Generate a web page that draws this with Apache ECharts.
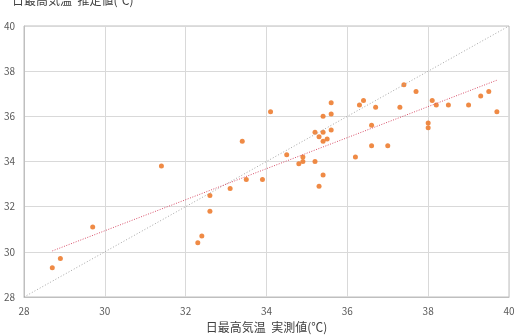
<html>
<head>
    <meta http-equiv="Content-Type" content="text/html; charset=utf-8">
    <title>日最高気温</title>
    <style>body{margin:0;}</style>
</head>
<body>
<div id="main" style="width:516px;height:335px;"></div>
<script type="text/javascript" src="https://cdn.jsdelivr.net/npm/echarts@6/dist/echarts.min.js"></script>
<script type="text/javascript">
// 実測値 / 推定値
var measured = [28.7, 28.9, 29.7, 31.4, 32.3, 32.4, 32.6, 32.6, 33.1, 33.4, 33.5, 33.9, 34.1, 34.5, 34.8, 34.9,
    34.9, 35.2, 35.2, 35.3, 35.3, 35.4, 35.4, 35.4, 35.4, 35.5, 35.6, 35.6, 35.6, 36.2, 36.3, 36.4,
    36.6, 36.6, 36.7, 37.0, 37.3, 37.4, 37.7, 38.0, 38.0, 38.1, 38.2, 38.5, 39.0, 39.3, 39.5, 39.7];
var estimated = [29.3, 29.7, 31.1, 33.8, 30.4, 30.7, 31.8, 32.5, 32.8, 34.9, 33.2, 33.2, 36.2, 34.3, 33.9, 34.0,
    34.2, 34.0, 35.3, 35.1, 32.9, 33.4, 34.9, 35.3, 36.0, 35.0, 35.4, 36.1, 36.6, 34.2, 36.5, 36.7,
    35.6, 34.7, 36.4, 34.7, 36.4, 37.4, 37.1, 35.7, 35.5, 36.7, 36.5, 36.5, 36.5, 36.9, 37.1, 36.2];
// 近似直線 (両端)
var trendX = [28.7, 39.7];
var trendY = [30.04, 37.6];
// y = x の線
var diagX = [28, 40];
var diagY = [28, 40];
var ticks = [28, 30, 32, 34, 36, 38, 40];

var font = '"Noto Sans CJK JP", "Noto Sans", sans-serif';
var points = [];
for (var i = 0; i < measured.length; i++) {
    points.push([measured[i], estimated[i]]);
}

var myChart = echarts.init(document.getElementById("main"));

var option = {
    animation: false,
    textStyle: {fontFamily: font},
    title: {
        text: "日最高気温  推定値(℃)",
        left: 7, top: -11,
        textStyle: {fontSize: 12, fontWeight: 'normal', color: '#404040', fontFamily: font}
    },
    grid: {left: 24, right: 7, top: 26, bottom: 38, outerBoundsMode: 'none',
        show: true, borderColor: '#bfbfbf', borderWidth: 1},
    xAxis: {
        type: 'value', min: ticks[0], max: ticks[ticks.length - 1], interval: 2,
        name: "日最高気温  実測値(℃)", nameLocation: 'middle', nameGap: 24,
        nameTextStyle: {fontSize: 12, color: '#404040', fontFamily: font},
        axisLine: {show: true, lineStyle: {color: '#bfbfbf'}},
        axisTick: {show: false},
        axisLabel: {fontSize: 10, color: '#595959', margin: 9},
        splitLine: {lineStyle: {color: '#d9d9d9'}}
    },
    yAxis: {
        type: 'value', min: ticks[0], max: ticks[ticks.length - 1], interval: 2,
        axisLine: {show: true, lineStyle: {color: '#bfbfbf'}},
        axisTick: {show: false},
        axisLabel: {fontSize: 10, color: '#595959', margin: 9},
        splitLine: {lineStyle: {color: '#d9d9d9'}}
    },
    series: [
        {
            type: 'line', data: [[diagX[0], diagY[0]], [diagX[1], diagY[1]]],
            symbol: 'none', lineStyle: {color: '#a6a6a6', width: 1, type: [1, 2]}, silent: true
        },
        {
            type: 'line', data: [[trendX[0], trendY[0]], [trendX[1], trendY[1]]],
            symbol: 'none', lineStyle: {color: '#d8506a', width: 1, type: [1, 1.5]}, silent: true
        },
        {
            type: 'scatter', data: points, symbolSize: 5,
            itemStyle: {color: '#ed7d31', opacity: 0.9}
        }
    ]
};
myChart.setOption(option);
</script>
</body>
</html>
